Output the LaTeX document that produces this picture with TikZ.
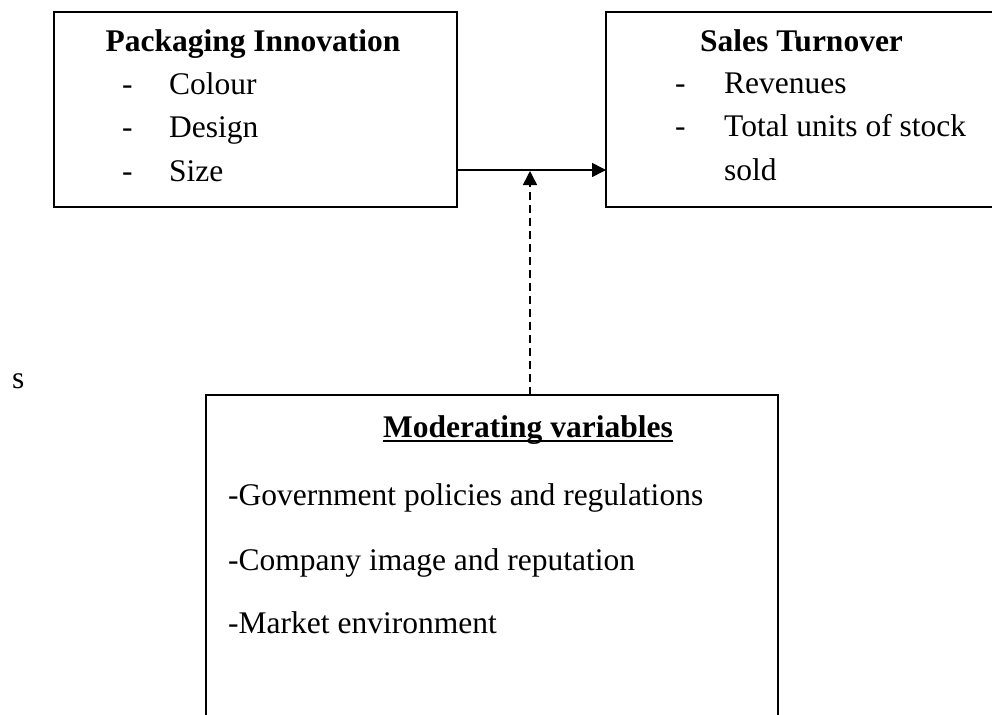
\documentclass[tikz,border=0pt]{standalone}
\usepackage{fontspec}
\setmainfont{Liberation Serif}
\usetikzlibrary{arrows.meta}
\begin{document}
\begin{tikzpicture}[x=1pt,y=-1pt,
  box/.style={draw, line width=1.6pt, inner sep=0pt, outer sep=0pt, anchor=north west},
  txt/.style={anchor=base west, inner sep=0pt, font=\fontsize{31.5}{40}\selectfont},
  boldtxt/.style={txt, font=\fontsize{31.5}{40}\selectfont\bfseries},
  conn/.style={line width=1.6pt},
  tipped/.style={-{Triangle[length=14pt,width=14pt]}}]
\clip (0,0) rectangle (992,714);
\fill[white] (0,0) rectangle (992,714);
% boxes
\node[box, minimum width=403pt, minimum height=195pt] (pi) at (54,12) {};
\node[box, minimum width=420pt, minimum height=195pt] (st) at (606,12) {};
\node[box, minimum width=572pt, minimum height=345pt] (mv) at (206,395) {};
% left box text
\node[boldtxt, anchor=base] (pit) at (253,52) {Packaging Innovation};
\node[txt] (pd1) at (122,95) {-};
\node[txt] (pl1) at (169,95) {Colour};
\node[txt] (pd2) at (122,138) {-};
\node[txt] (pl2) at (169,138) {Design};
\node[txt] (pd3) at (122,182) {-};
\node[txt] (pl3) at (169,182) {Size};
% right box text
\node[boldtxt] (stt) at (700,52) {Sales Turnover};
\node[txt] (sd1) at (675,94) {-};
\node[txt] (sl1) at (724,94) {Revenues};
\node[txt] (sd2) at (675,137) {-};
\node[txt] (sl2) at (724,137) {Total units of stock};
\node[txt] (sl3) at (724,180) {sold};
% bottom box text
\node[boldtxt, anchor=base] (mvt) at (528,437) {Moderating variables};
\draw[line width=1.5pt] ([yshift=-4pt]mvt.base west) -- ([yshift=-4pt]mvt.base east);
\node[txt] (m1) at (228,505) {-Government policies and regulations};
\node[txt] (m2) at (228,570) {-Company image and reputation};
\node[txt] (m3) at (228,633) {-Market environment};
% stray letter
\node[txt] (stray) at (12,388) {s};
% connectors
\coordinate (ay) at (0,170);
\coordinate (dx) at (530,171);
\draw[conn,tipped] (pi.east |- ay) -- (st.west |- ay);
\draw[conn,tipped,dash pattern=on 8pt off 5pt] (mv.north -| dx) -- (dx);
\end{tikzpicture}
\end{document}
